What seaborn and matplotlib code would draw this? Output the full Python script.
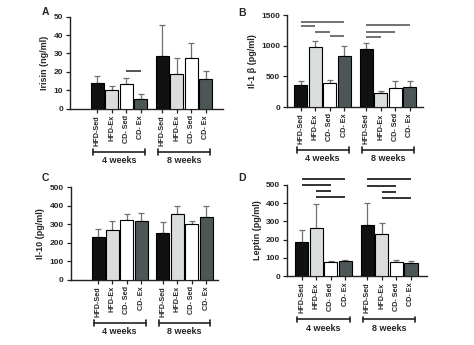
import numpy as np
import pandas as pd
import matplotlib
matplotlib.use("Agg")
import matplotlib.pyplot as plt
import matplotlib.transforms as mtransforms
import seaborn as sns

# ---------------- data ----------------
conditions = ["HFD-Sed", "HFD-Ex", "CD- Sed", "CD- Ex"]
weeks = ["4 weeks", "8 weeks"]

irisin_mean = [14, 10, 13.5, 5.5, 28.5, 19, 27.5, 16]
irisin_sd = [4, 2.5, 3, 2.5, 17, 8.5, 8, 4.5]

il1b_mean = [355, 982, 393, 829, 949, 224, 311, 327]
il1b_sd = [65, 98, 43, 169, 98, 32, 114, 93]

il10_mean = [229, 267, 323, 316, 254, 356, 301, 339]
il10_sd = [47, 51, 31, 43, 56, 41, 17, 58]

leptin_mean = [187, 264, 78, 82, 282, 233, 78, 75]
leptin_sd = [64, 129, 7, 9, 118, 60, 9, 9]

# significance bars: (bar i, bar j, height)
irisin_sig = [(2, 3, 20.7)]
il1b_sig = [(0, 3, 1391), (0, 1, 1325), (1, 2, 1227), (2, 3, 1156),
            (4, 7, 1336), (4, 6, 1227), (4, 5, 1135)]
il10_sig = []
leptin_sig = [(0, 3, 529), (0, 2, 496), (1, 2, 464), (1, 3, 433),
              (4, 7, 529), (4, 6, 491), (5, 6, 460), (5, 7, 429)]

# ---------------- style ----------------
sns.set_style("ticks")
plt.rcParams["font.family"] = ["Liberation Sans", "DejaVu Sans"]
plt.rcParams["font.weight"] = "bold"

palette = ["#111111", "#d9dddd", "#ffffff", "#4b5757"]
positions = [0, 1, 2, 3, 4.5, 5.5, 6.5, 7.5]

fig = plt.figure(figsize=(4.74, 3.45), dpi=100)

panels = [
    dict(letter="A", rect=[70, 16.7, 222.7, 108.7], xlim=(-1.88, 8.67),
         mean=irisin_mean, sd=irisin_sd, sig=irisin_sig, sigc="#444444",
         ylabel="Irisin (ng/ml)", yticks=[0, 10, 20, 30, 40, 50], lpos=(45.7, 12.3)),
    dict(letter="B", rect=[287, 15, 423, 107], xlim=(-0.96, 8.43),
         mean=il1b_mean, sd=il1b_sd, sig=il1b_sig, sigc="#666666",
         ylabel="Il-1 β (pg/ml)", yticks=[0, 500, 1000, 1500], lpos=(242, 12.7)),
    dict(letter="C", rect=[70.7, 187.3, 218, 279.7], xlim=(-1.9, 8.33),
         mean=il10_mean, sd=il10_sd, sig=il10_sig, sigc="#444444",
         ylabel="Il-10 (pg/ml)", yticks=[0, 100, 200, 300, 400, 500], lpos=(45.5, 177.7)),
    dict(letter="D", rect=[287, 184.7, 427, 276.3], xlim=(-1.0, 8.6),
         mean=leptin_mean, sd=leptin_sd, sig=leptin_sig, sigc="#222222",
         ylabel="Leptin (pg/ml)", yticks=[0, 100, 200, 300, 400, 500], lpos=(242, 178)),
]

W, H = 474, 345
for p in panels:
    x0, y0, x1, y1 = p["rect"]
    ax = fig.add_axes([x0 / W, (H - y1) / H, (x1 - x0) / W, (y1 - y0) / H])
    df = pd.DataFrame({
        "pos": positions,
        "value": p["mean"],
        "cond": conditions * 2,
    })
    sns.barplot(data=df, x="pos", y="value", hue="cond", hue_order=conditions,
                palette=palette, native_scale=True, dodge=False, width=0.9,
                edgecolor="black", linewidth=0.8, errorbar=None, legend=False,
                ax=ax, zorder=3)
    ax.errorbar(positions, p["mean"], yerr=[np.zeros(8), p["sd"]], fmt="none",
                ecolor="#707070", elinewidth=0.9, capsize=2.5, capthick=0.9, zorder=2)
    for i, j, h in p["sig"]:
        ax.plot([positions[i], positions[j]], [h, h], color=p["sigc"], lw=1.3,
                clip_on=False, zorder=4, solid_capstyle="butt")
    ax.set_xlim(*p["xlim"])
    ax.set_ylim(0, p["yticks"][-1])
    ax.set_yticks(p["yticks"])
    ax.set_yticklabels([str(t) for t in p["yticks"]], fontsize=6, fontweight="bold")
    ax.set_xticks(positions)
    ax.set_xticklabels(conditions * 2, rotation=90, fontsize=5.2, fontweight="bold")
    ax.set_xlabel("")
    ax.set_ylabel(p["ylabel"], fontsize=6.5, fontweight="bold", labelpad=3)
    sns.despine(ax=ax)
    for s in ["left", "bottom"]:
        ax.spines[s].set_linewidth(1.0)
        ax.spines[s].set_color("#222222")
    ax.tick_params(axis="both", length=3, width=0.9, pad=2, color="#222222")
    ax.tick_params(axis="x", pad=1.5)
    ax.set_facecolor("white")

    trans = mtransforms.blended_transform_factory(ax.transData, ax.transAxes)
    for g in range(2):
        a = positions[4 * g] - 0.3
        b = positions[4 * g + 3] + 0.3
        ax.plot([a, b], [-0.47, -0.47], color="#222222", lw=1.2, transform=trans,
                clip_on=False)
        for xx in (a, b):
            ax.plot([xx, xx], [-0.44, -0.50], color="#222222", lw=1.2,
                    transform=trans, clip_on=False)
        ax.text((a + b) / 2, -0.565, weeks[g], transform=trans, ha="center",
                va="center", fontsize=6.5, fontweight="bold")

    fig.text(p["lpos"][0] / W, 1 - p["lpos"][1] / H, p["letter"], fontsize=7.5,
             fontweight="bold", ha="center", va="center")

fig.savefig("out.png", dpi=100, facecolor="white")
